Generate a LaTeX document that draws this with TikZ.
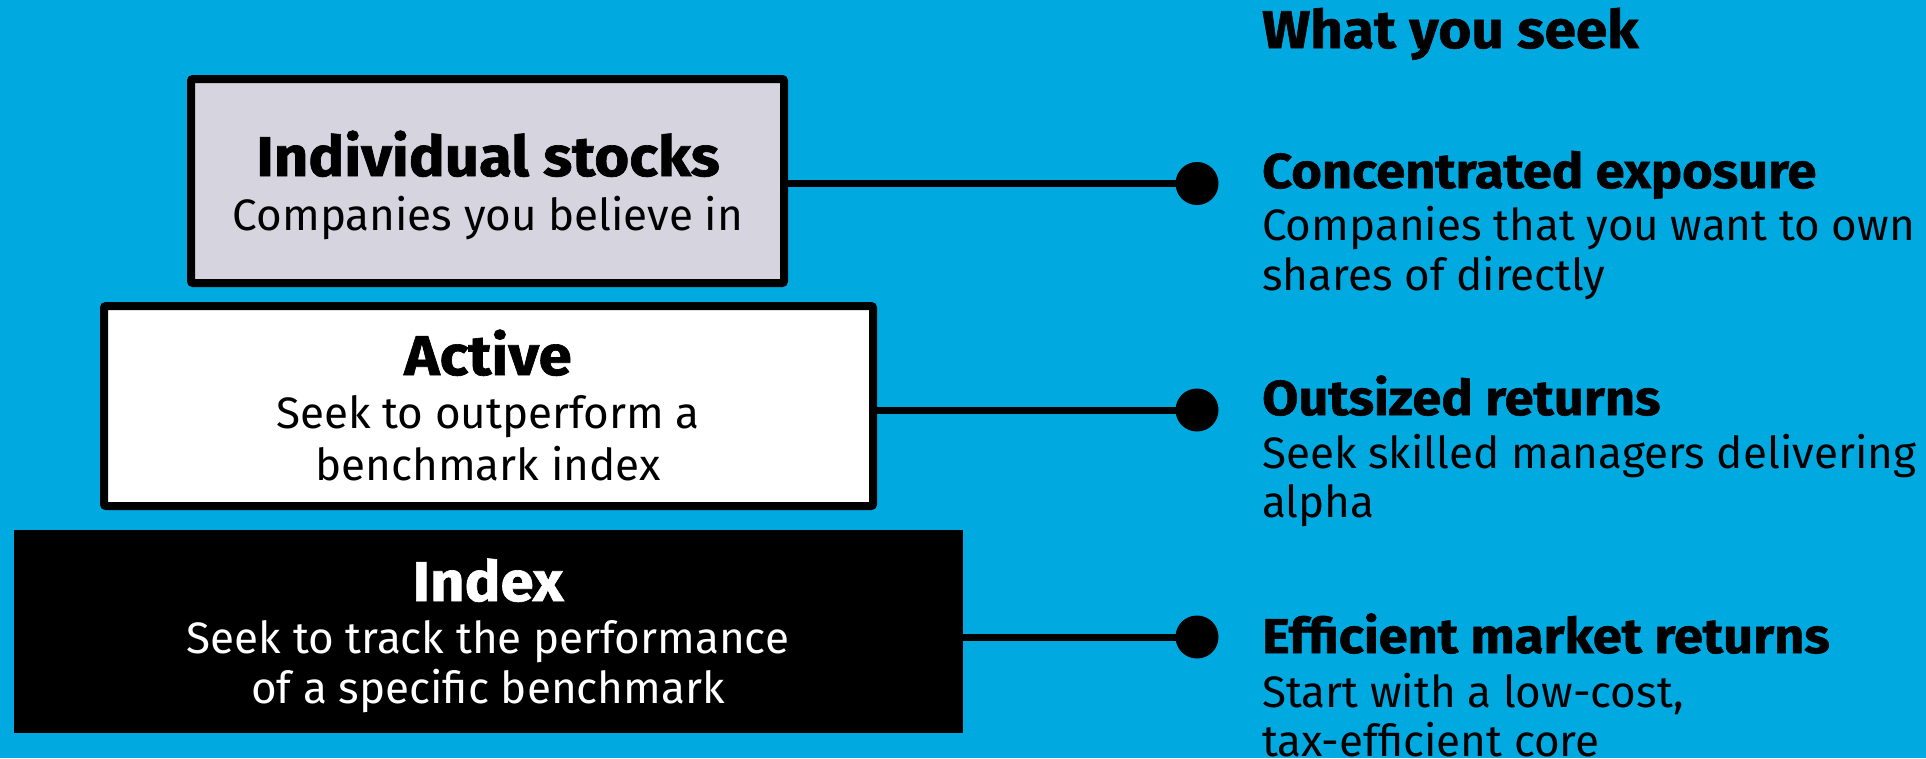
\documentclass[tikz,border=0pt]{standalone}
\usepackage{fontspec}
\setmainfont{Fira Sans}
\newfontfamily\headfont{Fira Sans}[FakeStretch=1.07,BoldFeatures={FakeBold=1.2}]
\definecolor{skyblue}{RGB}{0,169,224}
\definecolor{lilac}{RGB}{214,213,223}
\begin{document}
\begin{tikzpicture}[x=1pt,y=-1pt,
  tier/.style={draw=black,line width=8pt,rounded corners=2pt},
  bighead/.style={anchor=base,inner sep=0pt,font=\headfont\bfseries\fontsize{56}{60}\selectfont},
  body/.style={anchor=base,inner sep=0pt,font=\fontsize{44}{50}\selectfont},
  sidehead/.style={anchor=base west,inner sep=0pt,font=\headfont\bfseries\fontsize{49}{56}\selectfont},
  sidebody/.style={anchor=base west,inner sep=0pt,font=\fontsize{44}{50}\selectfont},
  link/.style={line width=7pt},
  dot/.style={circle,fill=black,inner sep=0pt,minimum size=43pt}]
\useasboundingbox (0,0) rectangle (1926,758);
\fill[skyblue] (0,0) rectangle (1926,758);
\begin{scope}
\clip (0,0) rectangle (1926,758);

% tiers of the pyramid
\draw[tier,fill=lilac] (191,79) rectangle (784,283);
\draw[tier,fill=white] (104,306) rectangle (873,506);
\fill[black] (14,530) rectangle (963,733);
\coordinate (e1) at (784,183.5);
\coordinate (e2) at (873,410);
\coordinate (e3) at (963,637);

% tier labels
\node[bighead] (h1) at (488,176) {Individual stocks};
\node[body] (b1) at (488,230) {Companies you believe in};
\node[bighead] (h2) at (488,375) {Active};
\node[body] (b2a) at (488,428) {Seek to outperform a};
\node[body] (b2b) at (488,480) {benchmark index};
\node[bighead,text=white] (h3) at (488,601) {Index};
\node[body,text=white] (b3a) at (488,653) {Seek to track the performance};
\node[body,text=white] (b3b) at (488,703) {of a specific benchmark};

% dots and connectors
\node[dot] (d1) at (1197,183.5) {};
\node[dot] (d2) at (1197,410) {};
\node[dot] (d3) at (1197,637) {};
\draw[link] (e1) -- (d1.center);
\draw[link] (e2) -- (d2.center);
\draw[link] (e3) -- (d3.center);

% right column
\node[sidehead,font=\headfont\bfseries\fontsize{53}{60}\selectfont] (t0) at (1262,48) {What you seek};
\node[sidehead] (t1) at (1262,188) {Concentrated exposure};
\node[sidebody] (s1a) at (1262,240) {Companies that you want to own};
\node[sidebody] (s1b) at (1262,290) {shares of directly};
\node[sidehead] (t2) at (1262,415) {Outsized returns};
\node[sidebody] (s2a) at (1262,468) {Seek skilled managers delivering};
\node[sidebody] (s2b) at (1262,517) {alpha};
\node[sidehead] (t3) at (1262,653) {Efficient market returns};
\node[sidebody] (s3a) at (1262,707) {Start with a low-cost,};
\node[sidebody] (s3b) at (1262,756) {tax-efficient core};
\end{scope}
\end{tikzpicture}
\end{document}
